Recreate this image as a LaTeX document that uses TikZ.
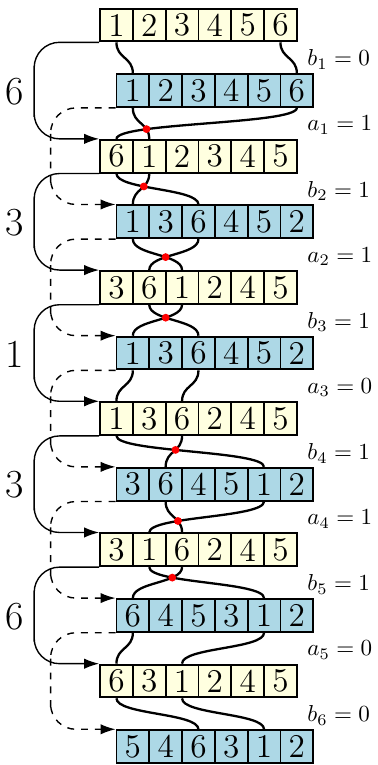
\documentclass[tikz,border=0pt]{standalone}
\usepackage{amsmath}
\usetikzlibrary{intersections,arrows.meta}
\definecolor{cellyellow}{HTML}{FFFFE0}
\definecolor{cellblue}{HTML}{ADD8E6}
\begin{document}
\begin{tikzpicture}[x=0.5cm,y=0.5cm,
                cell/.style={draw,thick,minimum size=0.5cm,inner sep=0pt,font=\Large},
                strand/.style={line width=1pt},
                jump/.style={semithick,rounded corners=11pt,-{Latex[length=6.5pt,width=4.5pt]}},
                lab/.style={anchor=west,inner sep=0pt}]
                \useasboundingbox (0,0) rectangle (11.494,-23.323);
                % yellow rows
                \foreach \r/\row in {1/{1,2,3,4,5,6},2/{6,1,2,3,4,5},3/{3,6,1,2,4,5},4/{1,3,6,2,4,5},5/{3,1,6,2,4,5},6/{6,3,1,2,4,5}}
                    \foreach \v [count=\c] in \row
                        \node[cell,fill=cellyellow] (Y\r-\c) at ({2.55+\c},{-0.762-4*(\r-1)}) {\v};
                % blue rows
                \foreach \r/\row in {1/{1,2,3,4,5,6},2/{1,3,6,4,5,2},3/{1,3,6,4,5,2},4/{3,6,4,5,1,2},5/{6,4,5,3,1,2},6/{5,4,6,3,1,2}}
                    \foreach \v [count=\c] in \row
                        \node[cell,fill=cellblue] (B\r-\c) at ({3.05+\c},{-2.762-4*(\r-1)}) {\v};
                % strands of 1 and 6
                \foreach \ra/\rb/\pa/\qa/\pb/\qb/\hit in {Y1/B1/1/1/6/6/0,B1/Y2/1/2/6/1/1,Y2/B2/1/3/2/1/1,B2/Y3/1/3/3/2/1,Y3/B3/2/3/3/1/1,B3/Y4/1/1/3/3/0,Y4/B4/1/5/3/2/1,B4/Y5/2/3/5/2/1,Y5/B5/2/5/3/1/1,B5/Y6/1/1/5/3/0,Y6/B6/1/3/3/5/0} {
                    \draw[strand,name path=sa] (\ra-\pa.south) .. controls +(0,-0.5) and +(0,0.5) .. (\rb-\qa.north);
                    \draw[strand,name path=sb] (\ra-\pb.south) .. controls +(0,-0.5) and +(0,0.5) .. (\rb-\qb.north);
                    \ifnum\hit=1
                        \fill[red,name intersections={of=sa and sb}] (intersection-1) circle (1.7pt);
                    \fi
                }
                % jumps on the left
                \foreach \r/\n/\k in {1/2/6,2/3/3,3/4/1,4/5/3,5/6/6} {
                    \draw[jump] (Y\r-1.south west) -| ++(-1.98,-1.5) node[left,inner sep=4pt,font=\LARGE] {\k} |- (Y\n-1.north west);
                    \draw[jump,dashed] (B\r-1.south west) -| ++(-1.98,-1.5) |- (B\n-1.north west);
                }
                % bits on the right
                \foreach \r/\bv/\av in {1/0/1,2/1/1,3/1/0,4/1/1,5/1/0} {
                    \node[lab] (lb\r) at (9.36,{-1.82-4*(\r-1)}) {$b_\r = \bv$};
                    \node[lab] (la\r) at (9.36,{-3.82-4*(\r-1)}) {$a_\r = \av$};
                }
                \node[lab] (lb6) at (9.36,-21.82) {$b_6 = 0$};
            \end{tikzpicture}
\end{document}
